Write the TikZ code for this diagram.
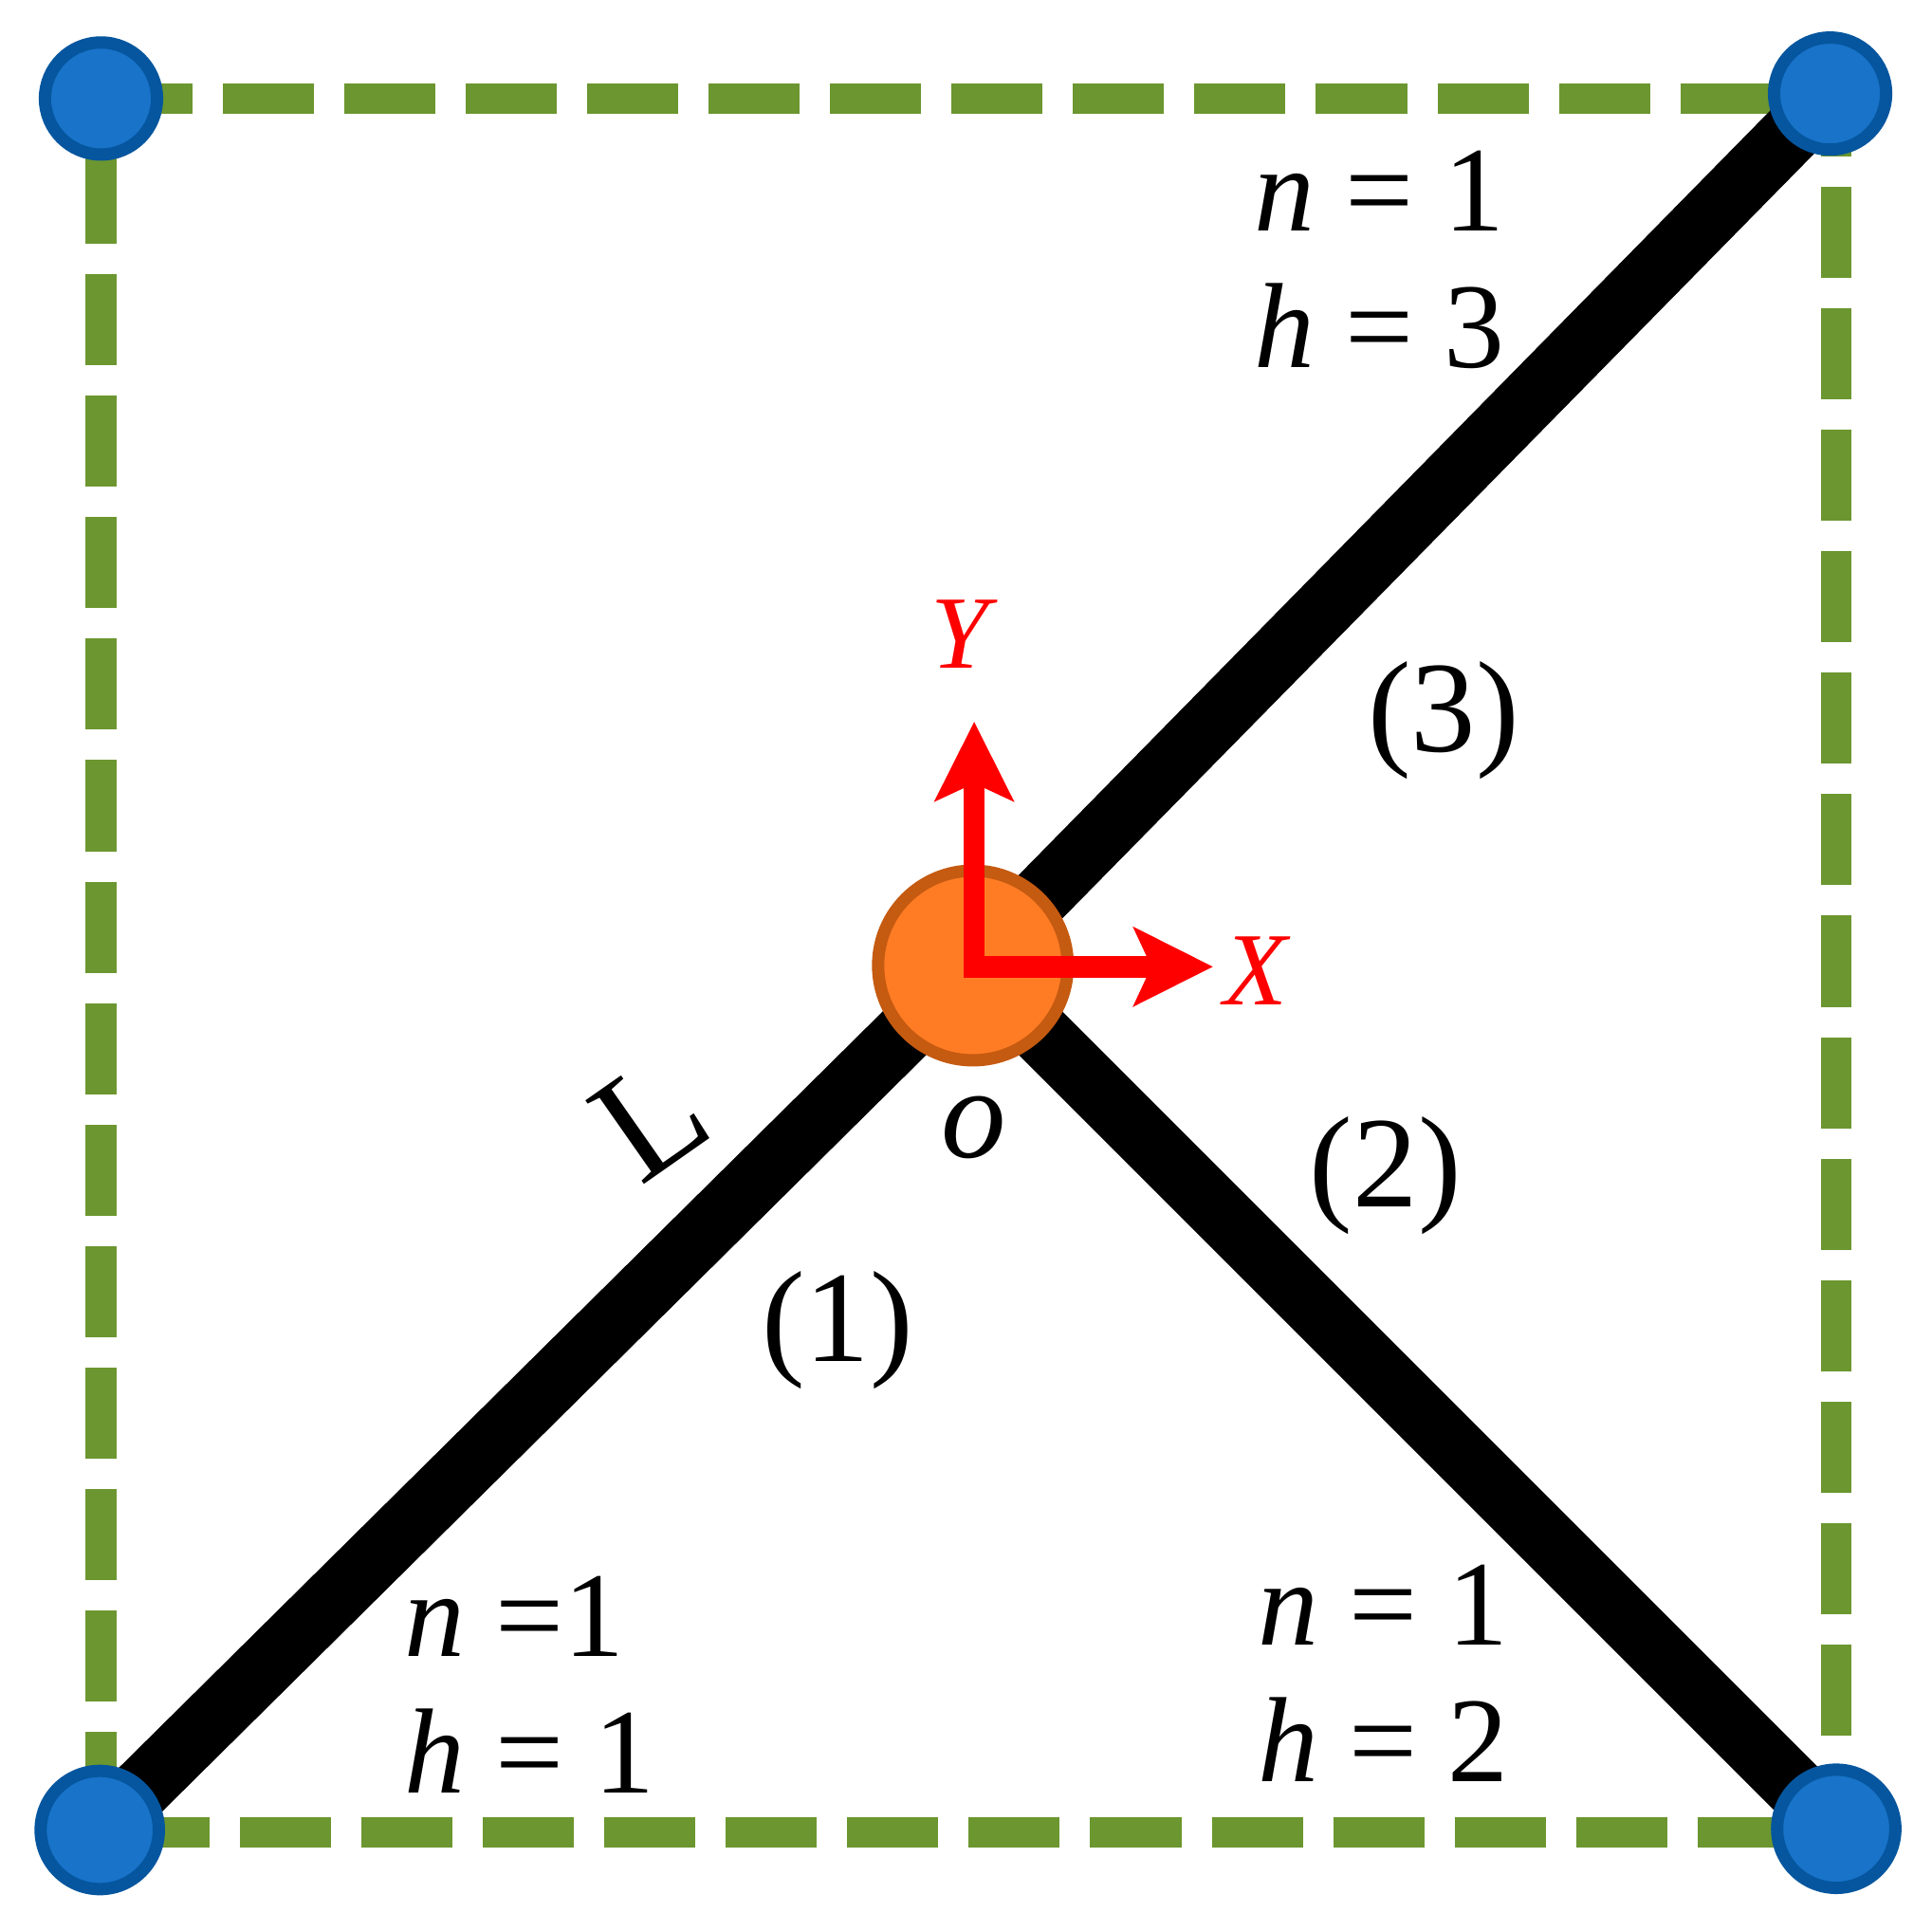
\documentclass[tikz,border=0pt]{standalone}
\usepackage{fontspec}
\setmainfont{Liberation Serif}
\usetikzlibrary{arrows.meta,backgrounds}
\definecolor{dashgreen}{HTML}{6C962F}
\definecolor{jointblue}{HTML}{1873C9}
\definecolor{jointedge}{HTML}{05569E}
\definecolor{hubfill}{HTML}{FF7C24}
\definecolor{hubedge}{HTML}{C55A11}
\begin{document}
\begin{tikzpicture}[font=\fontsize{24}{28}\selectfont, >={Stealth[length=0.64cm,width=0.63cm,inset=0.14cm]},
      joint/.style={circle, draw=jointedge, line width=0.10cm, fill=jointblue, minimum size=#1, inner sep=0pt},
      hub/.style={circle, draw=hubedge, line width=0.10cm, fill=hubfill, minimum size=1.54cm, inner sep=0pt},
      frame/.style={dashgreen, line width=0.25cm, dash pattern=on 0.74cm off 0.2465cm},
      rod/.style={black, line width=0.50cm},
      axis/.style={->, red, line width=0.175cm},
      lab/.style={inner sep=0pt, align=left, font=\fontsize{28}{31.5}\selectfont},
      tag/.style={inner sep=0pt, font=\fontsize{30}{34}\selectfont},
      axlab/.style={inner sep=0pt, red}]
    \useasboundingbox (0,0) rectangle (15.68,15.68);
    \coordinate (tl) at (0.82,14.88);
    \coordinate (tr) at (14.91,14.88);
    \coordinate (bl) at (0.82,0.80);
    \coordinate (br) at (14.91,0.80);
    \node[hub] (o) at (7.90,7.84) {};
    \node[joint=0.91cm] (n0) at (0.82,14.88) {};
    \node[joint=0.91cm] (n3) at (14.86,14.92) {};
    \node[joint=0.96cm] (n1) at (0.81,0.82) {};
    \node[joint=0.96cm] (n2) at (14.91,0.83) {};
    \coordinate (xend) at (9.85,7.83);
    \coordinate (yend) at (7.91,9.82);
    \coordinate (axo) at (7.91,7.83);
    \begin{scope}[on background layer]
      \fill[white] (0,0) rectangle (15.68,15.68);
      \draw[frame] (tl) -- (tr);
      \draw[frame, dash phase=0.27cm] (tr) -- (br);
      \draw[frame, dash phase=0.8465cm] (bl) -- (br);
      \draw[frame, dash phase=0.5465cm] (tl) -- (bl);
      \draw[rod] (n1.center) -- (o.center);
      \draw[rod] (n2.center) -- (o.center);
      \draw[rod] (n3.center) -- (o.center);
    \end{scope}
    \draw[axis, line cap=rect] (axo) -- (xend);
    \draw[axis, line cap=rect] (axo) -- (yend);
    \node[axlab] (ylab) at (7.83,10.53) {\textit{Y}};
    \node[axlab] (xlab) at (10.21,7.80) {\textit{X}};
    \node[tag] (olab) at (7.91,6.52) {\textit{o}};
    \node[tag, rotate=35, font=\fontsize{36}{40}\selectfont] (llab) at (5.28,6.60) {L};
    \node[tag] (c1) at (6.80,4.88) {(1)};
    \node[tag] (c2) at (11.25,6.13) {(2)};
    \node[tag] (c3) at (11.72,9.83) {(3)};
    \node[lab] (t3) at (11.20,13.57) {\textit{n} = 1\\\textit{h} = 3};
    \node[lab] (t1) at (4.30,2.00) {\textit{n} =1\\\textit{h} = 1};
    \node[lab] (t2) at (11.23,2.09) {\textit{n} = 1\\\textit{h} = 2};
  \end{tikzpicture}
\end{document}
